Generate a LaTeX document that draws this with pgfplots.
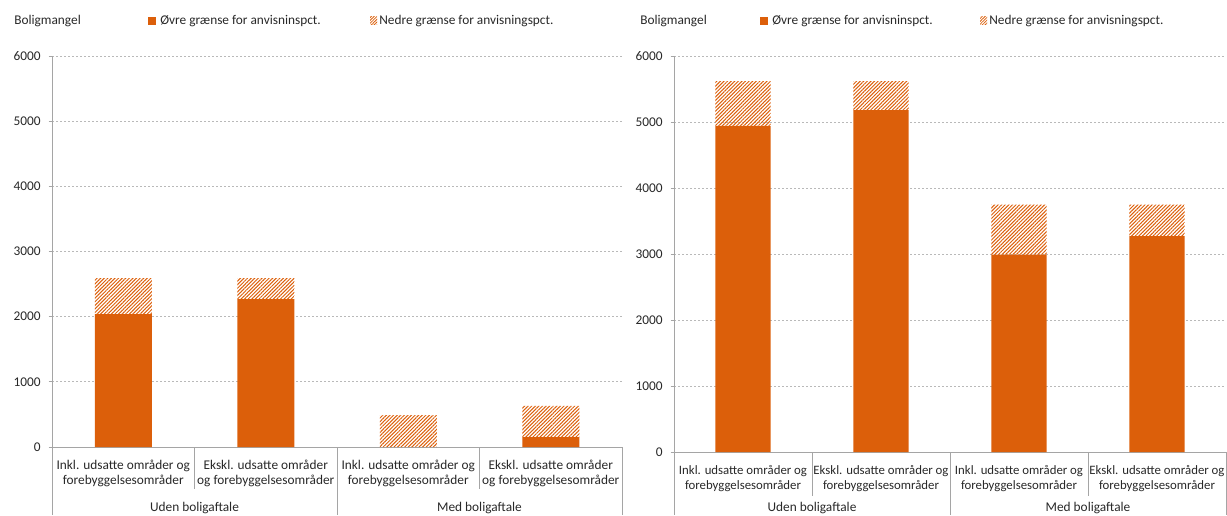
\documentclass[border=0pt]{standalone}
\usepackage{fontspec}
\setmainfont{Carlito}
\usepackage{pgfplots}
\pgfplotsset{compat=1.18}
\usetikzlibrary{patterns.meta}
\definecolor{barorange}{RGB}{220,95,10}
\definecolor{axgray}{RGB}{165,165,165}
\definecolor{gridgray}{RGB}{185,185,185}
\definecolor{txt}{RGB}{40,40,40}
\pgfplotsset{
 mystyle/.style={
  scale only axis,
  ybar stacked,
  bar width=0.4,
  xmin=-0.5, xmax=3.5,
  ymin=0, ymax=6000,
  ytick={0,1000,...,6000},
  xtick={0,1,2,3},
  axis lines*=left,
  axis line style={axgray, line width=0.6pt},
  tick align=outside,
  major tick length=2.5pt,
  ytick style={axgray, line width=0.6pt},
  xtick style={draw=none},
  ymajorgrids,
  grid style={gridgray, line width=0.6pt, dash pattern=on 1.5pt off 1.5pt},
  scaled y ticks=false,
  yticklabel style={/pgf/number format/1000 sep={}, /pgf/number format/assume math mode=true, font=\fontsize{10}{12}\selectfont, text=txt, xshift=-2.5pt},
  xticklabel style={align=center, font=\fontsize{10}{11.3}\selectfont, text=txt, yshift=-4pt},
  clip=false,
 },
 hatch/.style={draw=none, pattern={Lines[angle=45,distance=1.9pt,line width=0.75pt]}, pattern color=barorange},
 solid/.style={draw=none, fill=barorange},
}
\begin{document}
\begin{tikzpicture}
\useasboundingbox (0,0) rectangle (920.25pt,386.25pt);
% titles and legends
\begin{scope}[every node/.style={font=\fontsize{10}{12}\selectfont, text=txt, inner sep=0pt, anchor=west}]
\node at (10.5pt,370.5pt) {Boligmangel};
\fill[barorange] (111pt,367.5pt) rectangle (117pt,373.5pt);
\node at (120pt,370.5pt) {Øvre grænse for anvisninspct.};
\fill[pattern={Lines[angle=45,distance=1.5pt,line width=0.6pt]}, pattern color=barorange] (277.5pt,367.5pt) rectangle (282.75pt,373.5pt);
\node at (284.25pt,370.5pt) {Nedre grænse for anvisningspct.};
\node at (480pt,370.5pt) {Boligmangel};
\fill[barorange] (570pt,367.5pt) rectangle (576pt,373.5pt);
\node at (579pt,370.5pt) {Øvre grænse for anvisninspct.};
\fill[pattern={Lines[angle=45,distance=1.5pt,line width=0.6pt]}, pattern color=barorange] (735pt,367.5pt) rectangle (740.25pt,373.5pt);
\node at (741.75pt,370.5pt) {Nedre grænse for anvisningspct.};
\end{scope}
% left chart
\begin{axis}[mystyle, at={(39pt,51pt)}, anchor=south west, width=427.5pt, height=293.25pt,
  xticklabels={{Inkl. udsatte områder og\\forebyggelsesområder},{Ekskl. udsatte områder\\og forebyggelsesområder},{Inkl. udsatte områder og\\forebyggelsesområder},{Ekskl. udsatte områder\\og forebyggelsesområder}}]
\addplot[solid] coordinates {(0,2040) (1,2270) (2,0) (3,150)};
\addplot[hatch] coordinates {(0,550) (1,320) (2,490) (3,480)};
\draw[axgray, line width=0.6pt] (axis cs:0.5,0) -- ++(0pt,-31.5pt);
\draw[axgray, line width=0.6pt] (axis cs:2.5,0) -- ++(0pt,-31.5pt);
\draw[axgray, line width=0.6pt] (axis cs:-0.5,0) -- ++(0pt,-51pt);
\draw[axgray, line width=0.6pt] (axis cs:1.5,0) -- ++(0pt,-51pt);
\draw[axgray, line width=0.6pt] (axis cs:3.5,0) -- ++(0pt,-51pt);
\node[font=\fontsize{10}{12}\selectfont, text=txt] at (axis cs:0.5,0) [yshift=-45.75pt] {Uden boligaftale};
\node[font=\fontsize{10}{12}\selectfont, text=txt] at (axis cs:2.5,0) [yshift=-45.75pt] {Med boligaftale};
\end{axis}
% right chart
\begin{axis}[mystyle, at={(505.5pt,47.25pt)}, anchor=south west, width=414pt, height=297pt, bar width=0.4,
  xticklabel style={font=\fontsize{9.6}{11.3}\selectfont},
  xticklabels={{Inkl. udsatte områder og\\forebyggelsesområder},{Ekskl. udsatte områder og\\forebyggelsesområder},{Inkl. udsatte områder og\\forebyggelsesområder},{Ekskl. udsatte områder og\\forebyggelsesområder}}]
\addplot[solid] coordinates {(0,4940) (1,5180) (2,2990) (3,3270)};
\addplot[hatch] coordinates {(0,680) (1,440) (2,760) (3,480)};
\draw[axgray, line width=0.6pt] (axis cs:0.5,0) -- ++(0pt,-33pt);
\draw[axgray, line width=0.6pt] (axis cs:2.5,0) -- ++(0pt,-33pt);
\draw[axgray, line width=0.6pt] (axis cs:-0.5,0) -- ++(0pt,-47.25pt);
\draw[axgray, line width=0.6pt] (axis cs:1.5,0) -- ++(0pt,-47.25pt);
\draw[axgray, line width=0.6pt] (axis cs:3.5,0) -- ++(0pt,-47.25pt);
\node[font=\fontsize{10}{12}\selectfont, text=txt] at (axis cs:0.5,0) [yshift=-42pt] {Uden boligaftale};
\node[font=\fontsize{10}{12}\selectfont, text=txt] at (axis cs:2.5,0) [yshift=-42pt] {Med boligaftale};
\end{axis}
\end{tikzpicture}
\end{document}
